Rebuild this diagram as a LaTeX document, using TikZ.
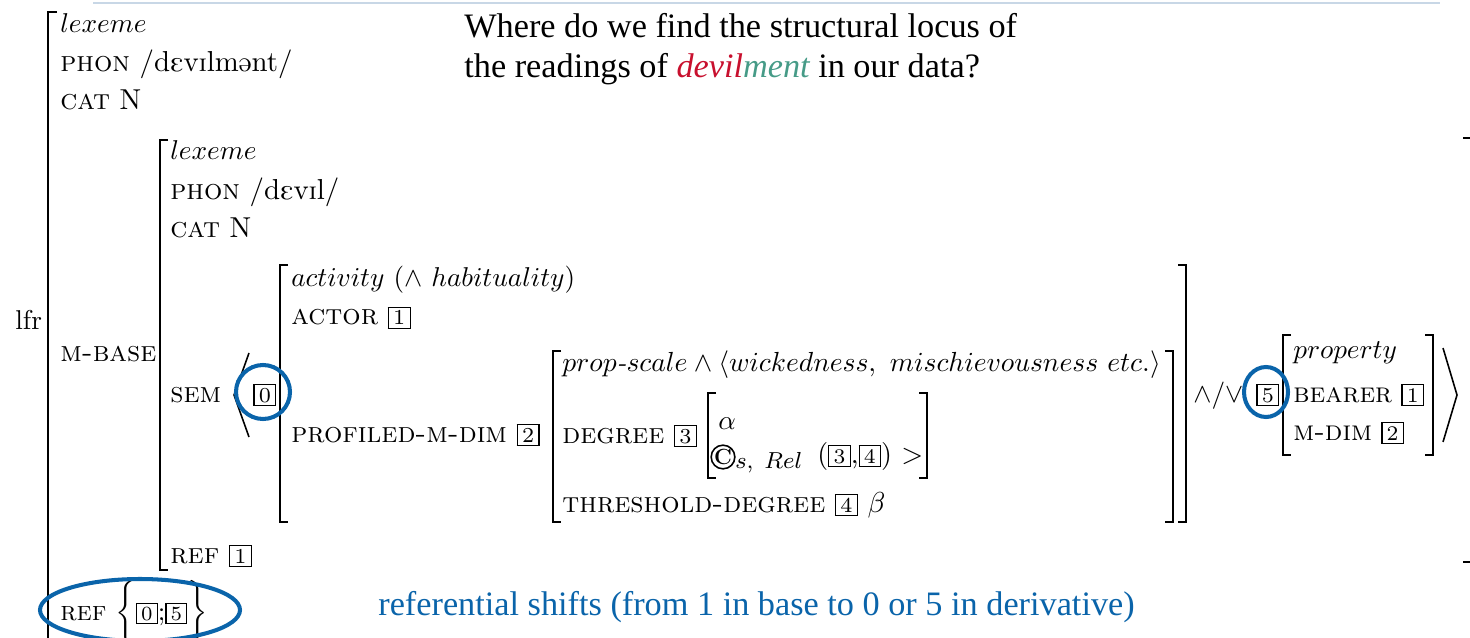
\documentclass[tikz,border=0pt]{standalone}
\usepackage{fix-cm}
\usepackage{amsmath}
\usepackage[safe]{tipa}
\usepackage{fontspec}
\newfontfamily\slidefont{Liberation Serif}
\usepackage{tikz}
\usetikzlibrary{positioning}

\definecolor{devilred}{RGB}{200,16,46}
\definecolor{mentteal}{RGB}{70,155,135}
\definecolor{markblue}{RGB}{10,100,170}
\definecolor{rulegray}{RGB}{200,215,230}

% avm text: 10pt design, blown up to slide size
\newcommand\av[2][1.55]{\scalebox{#1}{\fontsize{10}{12}\selectfont #2}}
\newcommand\avmtag[1]{{\fboxsep=1pt\fboxrule=0.4pt\fbox{\kern0.5pt\fontsize{7.4}{8}\selectfont#1\kern0.5pt}}}

\begin{document}
\begin{tikzpicture}[
    x=0.02cm, y=-0.02cm,
    avm/.style={anchor=base west, inner sep=0pt},
    slide/.style={anchor=base west, inner sep=0pt, font=\slidefont\fontsize{19.5}{23}\selectfont},
    brak/.style={line width=1.1pt},
    angle/.style={line width=0.9pt},
    hilite/.style={draw=markblue, line width=2.3pt}
]
\useasboundingbox (0,0) rectangle (1470,638);
\clip (0,0) rectangle (1470,638);
\draw[rulegray, line width=0.8pt] (93,3) -- (1440,3);

% question on the slide
\node[slide] (q1) at (464,38) {Where do we find the structural locus of};
\node[slide] (q2) at (464,78) {the readings of \textcolor{devilred}{\itshape devil}\textcolor{mentteal}{\itshape ment} in our data?};

% derived lexeme
\node[avm] (lfr) at (15,330) {\av{lfr}};
\draw[brak] (57,12) -| (48,660);
\node[avm] (lex) at (60,33) {\av{$lexeme$}};
\node[avm] (phon) at (60,72) {\av[1.64]{\textsc{phon} /\textipa{dEvIlm@nt}/}};
\node[avm] (cat) at (60,110) {\av[1.64]{\textsc{cat} N}};
\node[avm] (mbase) at (60,361) {\av[1.64]{\textsc{m-base}}};
\node[avm] (ref) at (60,620) {\av{\textsc{ref} $\bigg\{$\avmtag{0};\avmtag{5}$\bigg\}$}};

% base lexeme
\draw[brak] (168,140) -| (160,570) -- (168,570);
\draw[brak] (1463,138) -| (1471,562) -- (1463,562);
\node[avm] (blex) at (170,160) {\av{$lexeme$}};
\node[avm] (bphon) at (170,200) {\av[1.64]{\textsc{phon} /\textipa{dEvIl}/}};
\node[avm] (bcat) at (170,238) {\av[1.64]{\textsc{cat} N}};
\node[avm] (sem) at (170,402) {\av[1.64]{\textsc{sem}}};
\node[avm] (bref) at (170,563) {\av[1.64]{\textsc{ref} \avmtag{1}}};

% sem list
\draw[angle] (249,353) -- (234,395) -- (249,437);
\node[avm] (t0) at (253,402) {\av[1.64]{\avmtag{0}}};
\draw[angle] (1443,348) -- (1457,395) -- (1443,442);

\draw[brak] (288,265) -| (280,522) -- (288,522);
\draw[brak] (1178,265) -| (1186,522) -- (1178,522);
\node[avm] (act) at (291,287) {\av{$activity\ (\wedge\ habituality)$}};
\node[avm] (actor) at (291,325) {\av[1.64]{\textsc{actor} \avmtag{1}}};
\node[avm] (pmd) at (291,442) {\av[1.64]{\textsc{profiled-m-dim} \avmtag{2}}};

% profiled dimension
\draw[brak] (561,351) -| (553,522) -- (561,522);
\draw[brak] (1165,351) -| (1173,522) -- (1165,522);
\node[avm] (scale) at (562,372) {\av[1.57]{$prop$\textit{-}$scale\wedge\langle wickedness,\ mischievousness\ etc.\rangle$}};
\node[avm] (deg) at (562,443) {\av[1.64]{\textsc{degree} \avmtag{3}}};
\node[avm] (thr) at (562,512) {\av[1.64]{\textsc{threshold-degree} \avmtag{4} $\beta$}};

\draw[brak] (716,393) -| (708,478) -- (716,478);
\draw[brak] (919,393) -| (927,478) -- (919,478);
\node[avm] (alpha) at (718,429) {\av{$\alpha$}};
\node[draw, circle, line width=0.9pt, minimum size=0.45cm, inner sep=0pt, font=\fontsize{12.5}{13}\selectfont\bfseries] (copyc) at (723,457) {C};
\node[avm] (rel) at (735,468) {\av{\fontsize{8.5}{9}\selectfont$s,\;Rel$}};
\node[avm] (args) at (817,463) {\av[1.6]{(\avmtag{3},\avmtag{4}) $>$}};

% bearer of the property
\node[avm] (andor) at (1193,402) {\av{$\wedge/\vee$}};
\node[avm] (t5) at (1256,402) {\av[1.64]{\avmtag{5}}};
\draw[brak] (1291,335) -| (1283,455) -- (1291,455);
\draw[brak] (1425,335) -| (1433,455) -- (1425,455);
\node[avm] (prop) at (1293,358) {\av{$property$}};
\node[avm] (bearer) at (1293,402) {\av[1.6]{\textsc{bearer} \avmtag{1}}};
\node[avm] (mdim) at (1293,440) {\av[1.6]{\textsc{m-dim} \avmtag{2}}};

% highlighted referents
\draw[hilite] (263,392) circle [radius=27];
\draw[hilite] (1266,392) ellipse [x radius=22, y radius=25];
\draw[hilite] (140,610) ellipse [x radius=100, y radius=31];
\node[slide, text=markblue] (shift) at (378,615) {referential shifts (from 1 in base to 0 or 5 in derivative)};
\end{tikzpicture}
\end{document}
